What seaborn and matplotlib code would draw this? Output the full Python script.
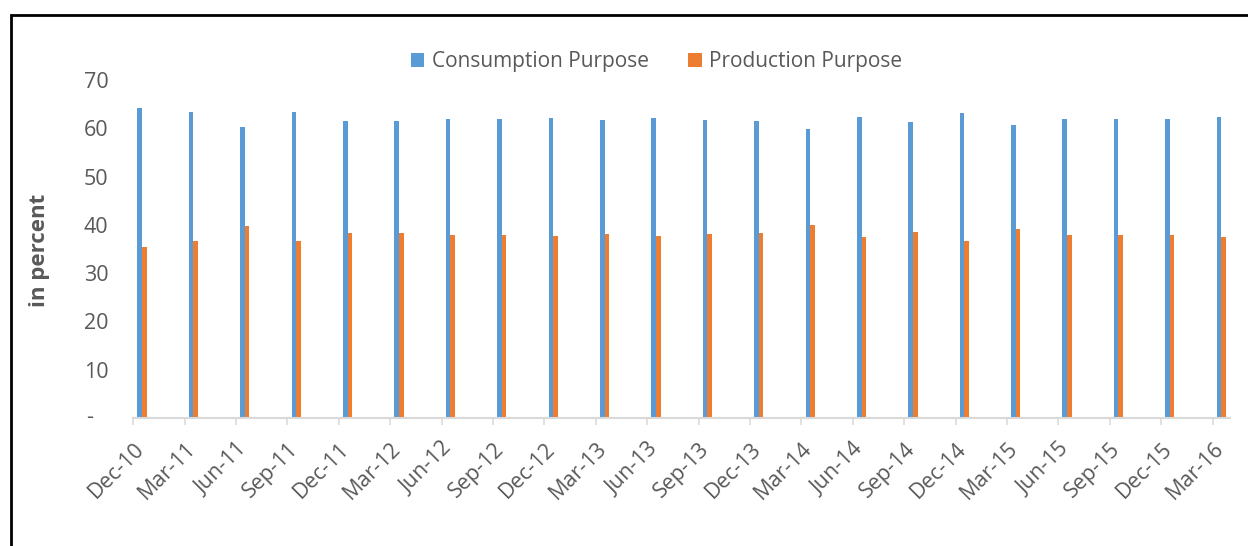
import matplotlib
matplotlib.use("Agg")
import matplotlib.pyplot as plt
from matplotlib.patches import Rectangle
import numpy as np
import pandas as pd
import seaborn as sns

quarters = ["Dec-10", "Mar-11", "Jun-11", "Sep-11", "Dec-11", "Mar-12", "Jun-12",
            "Sep-12", "Dec-12", "Mar-13", "Jun-13", "Sep-13", "Dec-13", "Mar-14",
            "Jun-14", "Sep-14", "Dec-14", "Mar-15", "Jun-15", "Sep-15", "Dec-15",
            "Mar-16"]
consumption = [64.3, 63.3, 60.2, 63.3, 61.5, 61.5, 61.9, 62.0, 62.2, 61.7, 62.2,
               61.8, 61.5, 59.8, 62.4, 61.3, 63.1, 60.7, 62.0, 61.9, 61.9, 62.3]
production = [35.5, 36.6, 39.7, 36.6, 38.3, 38.3, 37.9, 37.8, 37.7, 38.1, 37.7,
              38.1, 38.3, 40.0, 37.4, 38.6, 36.7, 39.1, 37.8, 37.9, 37.9, 37.5]
series_names = ["Consumption Purpose", "Production Purpose"]
colors = ["#5B9BD5", "#ED7D31"]
y_ticks = [0, 10, 20, 30, 40, 50, 60, 70]

df = pd.DataFrame({
    "quarter": quarters * 2,
    "value": consumption + production,
    "series": [series_names[0]] * len(quarters) + [series_names[1]] * len(quarters),
})

sns.set_style("white")
plt.rcParams["font.family"] = ["Open Sans", "DejaVu Sans"]
grey = "#595959"

fig = plt.figure(figsize=(12.48, 5.46), dpi=100)
ax = fig.add_axes([133.3 / 1248, 128 / 546, (1230 - 133.3) / 1248, 338 / 546])

sns.barplot(data=df, x="quarter", y="value", hue="series", order=quarters,
            hue_order=series_names, palette=colors, width=0.18, saturation=1,
            ax=ax, edgecolor="none", linewidth=0)

n = len(quarters)
pos = np.arange(n)
ax.set_xlim(-0.17, n - 1 + 0.17)
ax.set_ylim(0, 70)

# labels sit a bit right of the tick marks, like the excel date axis
ax.set_xticks(pos - 0.02)
ax.set_xticklabels(quarters, rotation=45, ha="right", va="center",
                   rotation_mode="anchor", fontsize=15.5, color=grey)
ax.set_xticks(pos - 0.17, minor=True)
ax.tick_params(axis="x", which="major", length=0, pad=20)
ax.tick_params(axis="x", which="minor", length=5, width=1.1, color="#d9d9d9",
               direction="out", bottom=True)

ax.set_yticks(y_ticks)
ax.set_yticklabels([""] + [str(v) for v in y_ticks[1:]], fontsize=15.5, color=grey)
ax.tick_params(axis="y", length=0, pad=18)
ax.text(-0.17 - 44 / 51.4, 0, "-", ha="center", va="center", fontsize=15.5,
        color=grey)

ax.set_xlabel("")
ax.set_ylabel("")
for side in ["top", "right", "left"]:
    ax.spines[side].set_visible(False)
ax.spines["bottom"].set_color("#d9d9d9")
ax.spines["bottom"].set_linewidth(1.5)
ax.grid(False)

handles, labels = ax.get_legend_handles_labels()
ax.legend_.remove()
fig.legend(handles, labels, loc="center", bbox_to_anchor=(656.5 / 1248, 1 - 62 / 546),
           ncol=2, frameon=False, fontsize=15, handlelength=0.65,
           handleheight=0.65, handletextpad=0.35, columnspacing=1.9,
           labelcolor=grey)

fig.text(39 / 1248, 1 - 250 / 546, "in percent", rotation=90, ha="center",
         va="center", fontsize=16, fontweight="bold", color=grey)

fig.add_artist(Rectangle((11 / 1248, -0.1), 1.2, 0.1 + 1 - 15 / 546,
                         transform=fig.transFigure, fill=False, lw=2,
                         ec="black"))

fig.savefig("out.png", dpi=100)
plt.close(fig)
